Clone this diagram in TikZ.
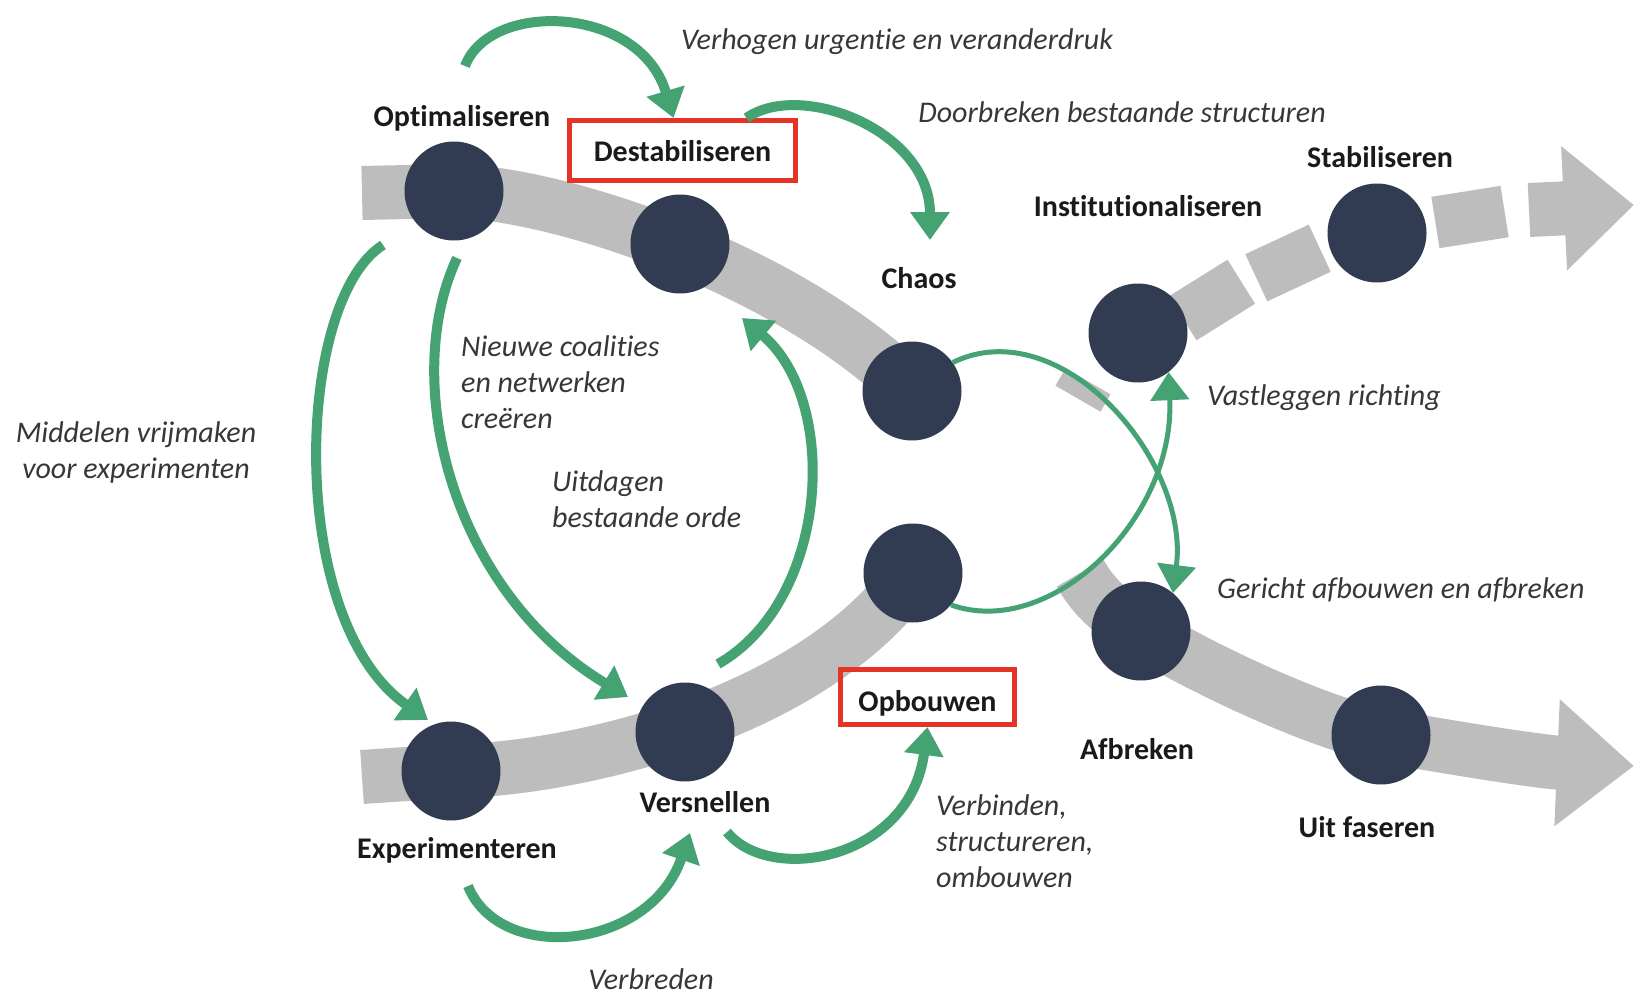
\documentclass[tikz,border=0pt]{standalone}
\usepackage{fontspec}
\setmainfont{Carlito}[Ligatures=NoCommon]
\usepackage{xcolor}
\usetikzlibrary{arrows.meta,backgrounds}
\definecolor{stagenavy}{RGB}{49,60,82}
\definecolor{bandgray}{RGB}{189,189,189}
\definecolor{changegreen}{RGB}{68,162,115}
\definecolor{boxred}{RGB}{228,52,38}
\definecolor{textdark}{RGB}{26,26,26}
\definecolor{textgray}{RGB}{55,55,55}

\begin{document}
\begin{tikzpicture}[
    x=1pt, y=-1pt,
    stage-dot/.style={circle, fill=stagenavy, minimum size=99pt, inner sep=0pt},
    stage-label/.style={font=\bfseries\fontsize{30}{36}\selectfont, text=textdark, inner sep=0pt, anchor=base},
    stage-box/.style={stage-label, anchor=center, draw=boxred, line width=5pt, text height=21pt, text depth=0pt},
    action-label/.style={font=\itshape\fontsize{30}{36}\selectfont, text=textgray, inner sep=0pt, anchor=base},
    band/.style={draw=bandgray, line width=54pt},
    band-piece/.style={fill=bandgray, inner sep=0pt, minimum height=52pt},
    change-arrow/.style={draw=changegreen, line width=10pt, -{Triangle[width=38pt,length=28pt]}},
    cross-arrow/.style={change-arrow, line width=5pt}
  ]
  \useasboundingbox (0,0) rectangle (1634,994);

  \node[stage-dot] (opt) at (454,191) {};
  \node[stage-dot] (destab) at (680,244) {};
  \node[stage-dot] (chaos) at (912,391) {};
  \node[stage-dot] (inst) at (1138,333) {};
  \node[stage-dot] (stab) at (1377,233) {};
  \node[stage-dot] (exp) at (451,771) {};
  \node[stage-dot] (vers) at (685,732) {};
  \node[stage-dot] (opb) at (913,573) {};
  \node[stage-dot] (afbr) at (1141,631) {};
  \node[stage-dot] (uit) at (1381,735) {};

  \begin{scope}[on background layer]
    \fill[white] (0,0) rectangle (1634,994);
    \draw[band] (362,193) -- (opt.center) .. controls (560,193) and (790,270) .. (chaos.center);
    \draw[band] (362,777) -- (exp.center) .. controls (560,771) and (810,720) .. (opb.center);
    \draw[band, -{Triangle[width=122pt,length=77pt]}] (1080,573)
      .. controls (1095,600) and (1115,615) .. (afbr.center)
      .. controls (1200,668) and (1320,724) .. (uit.center)
      .. controls (1440,746) and (1540,762) .. (1634,766);
    \foreach \x/\y/\a/\l [count=\i] in {1083/390/60/20, 1212/300/32/69, 1288/263/25/70, 1470/217/9/70}
      \node[band-piece, minimum width=\l pt, rotate=\a] (piece-\i) at (\x,\y) {};
    \draw[band, -{Triangle[width=120pt,length=70pt]}] (1529,210) -- (1634,205);
  \end{scope}

  \node[stage-label] (opt-label) at (462,126) {Optimaliseren};
  \node[stage-box, minimum width=226pt, minimum height=60pt] (destab-box) at (682.5,150.5) {Destabiliseren};
  \node[stage-label] (chaos-label) at (919,288) {Chaos};
  \node[stage-label] (inst-label) at (1148,216) {Institutionaliseren};
  \node[stage-label] (stab-label) at (1380,167) {Stabiliseren};
  \node[stage-label] (exp-label) at (457,858) {Experimenteren};
  \node[stage-label] (vers-label) at (705,812) {Versnellen};
  \node[stage-box, minimum width=174pt, minimum height=55pt, text height=29pt] (opb-box) at (927.5,697) {Opbouwen};
  \node[stage-label] (afbr-label) at (1137,759) {Afbreken};
  \node[stage-label] (uit-label) at (1367,837) {Uit faseren};

  \node[action-label] (urgency) at (897,49) {Verhogen urgentie en veranderdruk};
  \node[action-label] (breakthrough) at (1122,122) {Doorbreken bestaande structuren};
  \node[action-label, anchor=north west, align=left] (coalitions) at (461,335) {Nieuwe coalities\\en netwerken\\creëren};
  \node[action-label, anchor=north west, align=left] (challenge) at (552,470) {Uitdagen\\bestaande orde};
  \node[action-label, anchor=north, align=center] (resources) at (136,421) {Middelen vrijmaken\\voor experimenten};
  \node[action-label, anchor=base west] (direction) at (1207,405) {Vastleggen richting};
  \node[action-label, anchor=base west] (phaseout) at (1217,598) {Gericht afbouwen en afbreken};
  \node[action-label, anchor=north west, align=left] (connect) at (936,794) {Verbinden,\\structureren,\\ombouwen};
  \node[action-label] (broaden) at (651,989) {Verbreden};

  \coordinate (urgency-tail) at (465,66);
  \coordinate (chaos-top) at (930,240);
  \coordinate (resources-tail) at (383,245);
  \coordinate (resources-tip) at (428,720);
  \coordinate (coalitions-tail) at (457,258);
  \coordinate (coalitions-tip) at (628,697);
  \coordinate (challenge-tail) at (718,664);
  \coordinate (challenge-tip) at (742,318);
  \coordinate (broaden-tail) at (468,886);
  \coordinate (broaden-tip) at (690,833);
  \coordinate (connect-tail) at (727,832);

  \draw[change-arrow] (urgency-tail) .. controls (490,0) and (640,5) .. ([xshift=-9pt]destab-box.north);
  \draw[change-arrow] ([xshift=64pt]destab-box.north) .. controls (800,80) and (930,130) .. (chaos-top);
  \draw[change-arrow] (resources-tail) .. controls (295,300) and (285,620) .. (resources-tip);
  \draw[change-arrow] (coalitions-tail) .. controls (400,380) and (450,590) .. (coalitions-tip);
  \draw[change-arrow] (challenge-tail) .. controls (830,600) and (840,400) .. (challenge-tip);
  \draw[change-arrow] (broaden-tail) .. controls (500,965) and (650,950) .. (broaden-tip);
  \draw[change-arrow] (connect-tail) .. controls (770,885) and (910,860) .. (opb-box.south);
  \draw[cross-arrow] (chaos.35) .. controls (1060,310) and (1190,460) .. (afbr.50);
  \draw[cross-arrow] (opb.-40) .. controls (1050,640) and (1175,520) .. (inst.-52);
\end{tikzpicture}
\end{document}
